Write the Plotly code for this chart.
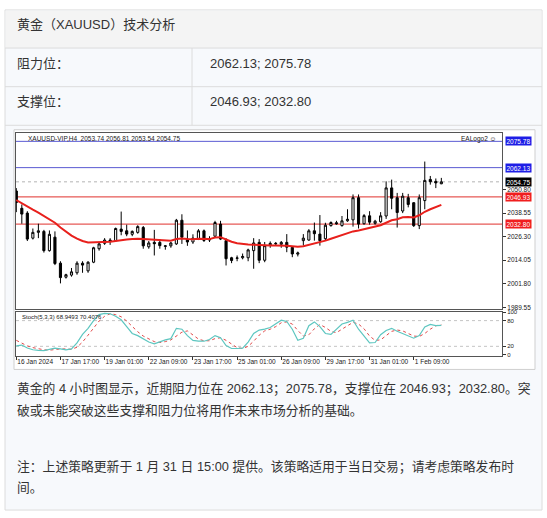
import plotly.graph_objects as go

W, H = 547, 518

# ---------------- data ----------------
bar_index = list(range(78))
opens = [2050.0, 2041.0, 2038.5, 2025.5, 2028.5, 2029.0, 2019.0, 2026.0, 2012.5, 2005.2,
         2006.3, 2007.5, 2012.5, 2008.5, 2013.0, 2020.0, 2022.8, 2024.5, 2024.2, 2030.2,
         2029.3, 2027.5, 2028.5, 2031.0, 2021.0, 2023.3, 2023.3, 2021.2, 2021.5, 2022.5,
         2034.8, 2025.0, 2023.5, 2025.0, 2029.3, 2024.5, 2026.5, 2032.8, 2024.2, 2015.3,
         2015.0, 2015.3, 2015.3, 2019.0, 2023.3, 2014.0, 2022.0, 2022.8, 2022.3, 2023.3,
         2020.7, 2017.2, 2024.2, 2024.5, 2029.3, 2027.6, 2025.2, 2032.0, 2033.5, 2032.0,
         2034.5, 2035.0, 2046.5, 2033.0, 2037.1, 2033.2, 2034.0, 2037.0, 2051.6, 2046.5,
         2039.6, 2046.5, 2043.9, 2032.0, 2045.0, 2056.0, 2055.0, 2053.74]
highs = [2051.5, 2043.0, 2039.5, 2030.5, 2033.0, 2029.8, 2029.5, 2029.0, 2013.5, 2007.0,
         2010.0, 2013.5, 2013.5, 2013.5, 2021.0, 2023.5, 2025.5, 2025.5, 2031.0, 2039.3,
         2032.5, 2029.5, 2032.2, 2031.8, 2024.0, 2029.8, 2025.0, 2021.8, 2023.5, 2035.5,
         2037.9, 2029.5, 2027.5, 2030.2, 2030.0, 2026.5, 2034.5, 2034.5, 2025.5, 2015.8,
         2016.5, 2017.5, 2020.0, 2025.5, 2025.0, 2023.5, 2023.8, 2023.5, 2024.0, 2027.6,
         2020.8, 2018.5, 2027.6, 2030.2, 2033.6, 2037.5, 2033.5, 2034.2, 2034.5, 2037.0,
         2040.5, 2048.2, 2048.2, 2038.0, 2039.5, 2035.0, 2039.0, 2055.0, 2055.9, 2049.0,
         2049.0, 2048.5, 2044.2, 2048.2, 2065.3, 2057.8, 2056.5, 2056.81]
lows = [2039.0, 2033.0, 2024.0, 2024.8, 2025.5, 2018.0, 2018.5, 2011.5, 2002.0, 2004.5,
        2005.5, 2006.5, 2007.5, 2007.5, 2012.5, 2019.0, 2022.0, 2022.0, 2023.8, 2027.0,
        2026.5, 2026.5, 2027.8, 2020.0, 2020.0, 2016.5, 2020.0, 2019.5, 2020.5, 2022.0,
        2022.5, 2021.5, 2022.5, 2024.5, 2023.5, 2023.5, 2026.0, 2024.5, 2011.3, 2012.5,
        2013.5, 2014.5, 2013.5, 2009.6, 2012.5, 2013.0, 2020.5, 2021.5, 2020.5, 2018.2,
        2015.6, 2016.0, 2021.6, 2024.2, 2024.2, 2021.6, 2024.5, 2031.5, 2032.5, 2031.5,
        2034.0, 2031.5, 2030.5, 2032.5, 2032.5, 2032.5, 2033.5, 2035.5, 2040.5, 2031.0,
        2038.5, 2041.5, 2031.3, 2030.2, 2040.5, 2053.3, 2051.5, 2053.54]
closes = [2044.0, 2038.0, 2025.0, 2028.5, 2029.3, 2019.0, 2027.5, 2012.3, 2005.0, 2006.5,
          2008.0, 2012.5, 2011.5, 2013.0, 2020.5, 2022.5, 2024.5, 2024.0, 2030.5, 2029.0,
          2027.6, 2029.0, 2031.5, 2021.5, 2023.0, 2022.6, 2021.6, 2021.5, 2023.0, 2034.8,
          2026.0, 2023.5, 2025.5, 2029.3, 2024.3, 2025.3, 2033.6, 2025.0, 2014.8, 2013.9,
          2015.2, 2016.0, 2019.4, 2023.0, 2014.0, 2021.6, 2022.8, 2022.6, 2023.3, 2020.8,
          2017.3, 2017.8, 2025.5, 2029.3, 2027.8, 2024.2, 2032.2, 2033.6, 2033.0, 2034.5,
          2035.3, 2046.5, 2032.8, 2037.2, 2033.8, 2034.3, 2037.1, 2051.6, 2046.2, 2038.8,
          2047.3, 2043.0, 2032.0, 2046.5, 2055.5, 2054.8, 2054.2, 2054.75]
ma_values = [2045.3, 2043.5, 2041.8, 2040.3, 2038.8, 2037.0, 2035.5, 2033.5, 2031.0, 2028.8,
             2026.8, 2025.2, 2024.0, 2023.3, 2023.3, 2023.3, 2023.5, 2023.6, 2024.0, 2024.6,
             2024.8, 2025.0, 2025.2, 2025.0, 2024.8, 2024.6, 2024.5, 2024.3, 2024.2, 2025.0,
             2025.3, 2025.0, 2024.9, 2025.2, 2025.1, 2025.0, 2025.8, 2026.0, 2024.8, 2023.6,
             2022.9, 2022.5, 2022.2, 2022.1, 2021.9, 2021.8, 2021.7, 2021.7, 2021.8, 2021.6,
             2021.3, 2021.0, 2021.3, 2022.0, 2022.6, 2023.3, 2024.2, 2025.2, 2026.2, 2027.2,
             2028.0, 2029.0, 2029.5, 2030.2, 2030.8, 2031.4, 2032.2, 2033.5, 2034.8, 2035.3,
             2036.3, 2036.5, 2036.2, 2037.4, 2039.2, 2040.5, 2041.7, 2042.8]
stoch_main = [21, 23, 16, 12, 10.5, 10, 13, 16, 14, 12,
              14, 28, 48, 62, 80, 94, 97, 96, 90, 82,
              66, 50, 45, 38, 30, 26, 31, 35, 38, 62,
              60, 45, 34, 32, 32, 36, 45, 40, 22, 15,
              15, 16, 30, 50, 58, 60, 64, 72, 81, 78,
              60, 34, 39, 68, 77, 66, 50, 48, 60, 72,
              76, 81, 60, 44, 28, 29, 47, 57, 62, 55,
              50, 44, 39, 45, 65, 71, 68.5, 68.9493]
stoch_signal = [34, 28, 21, 17, 14, 12, 11, 13, 14, 14,
                13, 18, 30, 46, 63, 79, 90, 96, 94, 89,
                79, 66, 54, 44, 38, 31, 29, 31, 35, 45,
                53, 56, 46, 37, 33, 33, 38, 40, 34, 26,
                17, 15, 20, 32, 46, 56, 60, 66, 75, 77,
                72, 57, 44, 47, 61, 71, 64, 55, 52, 60,
                69, 76, 72, 61, 44, 34, 35, 45, 55, 58,
                56, 50, 44, 43, 50, 60, 68, 70.4076]
x_tick_index = [0, 8, 16, 24, 32, 40, 48, 56, 64, 72]
x_tick_labels = ["16 Jan 2024", "17 Jan 17:00", "19 Jan 01:00", "22 Jan 09:00", "23 Jan 17:00",
                 "25 Jan 01:00", "26 Jan 09:00", "29 Jan 17:00", "31 Jan 01:00", "1 Feb 09:00"]
price_tick_values = [2050.80, 2038.55, 2026.30, 2014.05, 2001.80, 1989.55]
price_tick_labels = ["2050.80", "2038.55", "2026.30", "2014.05", "2001.80", "1989.55"]
resistance_levels = [2075.78, 2062.13]
support_levels = [2046.93, 2032.80]
current_price = 2054.75
stoch_tick_values = [100, 80, 20, 0]
stoch_levels = [80, 20]

title_text = "黄金（XAUUSD）技术分析"
row_labels = ["阻力位：", "支撑位："]
row_values = ["2062.13; 2075.78", "2046.93; 2032.80"]
body_lines = ["黄金的 4 小时图显示，近期阻力位在 2062.13；2075.78，支撑位在 2046.93；2032.80。突",
              "破或未能突破这些支撑和阻力位将用作未来市场分析的基础。",
              "注：上述策略更新于 1 月 31 日 15:00 提供。该策略适用于当日交易；请考虑策略发布时",
              "间。"]

# ---------------- helpers ----------------
def px(x):
    return x / W

def py(y):
    return 1 - y / H

TXT = "Liberation Sans, Noto Sans CJK SC"
MT = "Liberation Sans"
BLUE_LINE = "#5a5ad2"
BLUE_BOX = "#1e1ee6"
RED_LINE = "#e0302c"
RED_BOX = "#f01e1e"
TXT_COLOR = "#333333"

fig = go.Figure()

fig.add_trace(go.Candlestick(
    x=bar_index, open=opens, high=highs, low=lows, close=closes,
    increasing=dict(line=dict(color="#000000", width=1), fillcolor="#ffffff"),
    decreasing=dict(line=dict(color="#000000", width=1), fillcolor="#000000"),
    whiskerwidth=0, xaxis="x", yaxis="y", showlegend=False, hoverinfo="skip"))
fig.add_trace(go.Scatter(x=bar_index, y=ma_values, mode="lines",
                         line=dict(color="#e8201c", width=2), xaxis="x", yaxis="y",
                         showlegend=False, hoverinfo="skip"))
fig.add_trace(go.Scatter(x=bar_index, y=stoch_signal, mode="lines",
                         line=dict(color="#e04848", width=1, dash="dot"), xaxis="x2", yaxis="y2",
                         showlegend=False, hoverinfo="skip"))
fig.add_trace(go.Scatter(x=bar_index, y=stoch_main, mode="lines",
                         line=dict(color="#5ec6c0", width=1.2), xaxis="x2", yaxis="y2",
                         showlegend=False, hoverinfo="skip"))

shapes = []
# table background
shapes.append(dict(type="rect", xref="paper", yref="paper", x0=px(5), x1=px(542), y0=py(512), y1=py(7),
                   fillcolor="#f7f9fc", line=dict(color="#dcdcdc", width=1), layer="below"))
shapes.append(dict(type="rect", xref="paper", yref="paper", x0=px(5.5), x1=px(541.5), y0=py(45.5), y1=py(7.5),
                   fillcolor="#f4f4f4", line=dict(width=0), layer="below"))
for yy in [45.5, 84.5, 123.5]:
    shapes.append(dict(type="line", xref="paper", yref="paper", x0=px(5), x1=px(542), y0=py(yy), y1=py(yy),
                       line=dict(color="#dcdcdc", width=1), layer="below"))
shapes.append(dict(type="line", xref="paper", yref="paper", x0=px(192), x1=px(192), y0=py(123.5), y1=py(45.5),
                   line=dict(color="#dcdcdc", width=1), layer="below"))
# chart image background
shapes.append(dict(type="rect", xref="paper", yref="paper", x0=px(14), x1=px(535), y0=py(370), y1=py(128),
                   fillcolor="#ffffff", line=dict(color="#cfcfcf", width=1), layer="below"))
# level lines
for lv in resistance_levels:
    shapes.append(dict(type="line", xref="x domain", yref="y", x0=0, x1=1, y0=lv, y1=lv,
                       line=dict(color=BLUE_LINE, width=1), layer="below"))
for lv in support_levels:
    shapes.append(dict(type="line", xref="x domain", yref="y", x0=0, x1=1, y0=lv, y1=lv,
                       line=dict(color=RED_LINE, width=1), layer="below"))
shapes.append(dict(type="line", xref="x domain", yref="y", x0=0, x1=1, y0=current_price, y1=current_price,
                   line=dict(color="#b4b4b4", width=1, dash="dot"), layer="below"))
for lv in stoch_levels:
    shapes.append(dict(type="line", xref="x2 domain", yref="y2", x0=0, x1=1, y0=lv, y1=lv,
                       line=dict(color="#c4c4c4", width=1, dash="dot"), layer="below"))

ann = []
# table text
ann.append(dict(text=title_text, x=px(15), y=py(22), xref="paper", yref="paper", xanchor="left",
                yanchor="middle", showarrow=False, font=dict(family=TXT, size=13, color=TXT_COLOR)))
for lbl, val, yy in zip(row_labels, row_values, [61, 99.5]):
    ann.append(dict(text=lbl, x=px(15), y=py(yy), xref="paper", yref="paper", xanchor="left",
                    yanchor="middle", showarrow=False, font=dict(family=TXT, size=13, color=TXT_COLOR)))
    ann.append(dict(text=val, x=px(208), y=py(yy), xref="paper", yref="paper", xanchor="left",
                    yanchor="middle", showarrow=False, font=dict(family=TXT, size=13, color=TXT_COLOR)))
for line, yy in zip(body_lines, [390, 411, 469, 489]):
    ann.append(dict(text=line, x=px(15), y=py(yy), xref="paper", yref="paper", xanchor="left",
                    yanchor="middle", showarrow=False, font=dict(family=TXT, size=12.8, color=TXT_COLOR)))
# chart texts
ann.append(dict(text="XAUUSD-VIP,H4\u00a0\u00a02053.74 2056.81 2053.54 2054.75", x=px(26), y=py(136.5),
                xref="paper", yref="paper", xanchor="left", yanchor="middle", showarrow=False,
                font=dict(family=MT, size=6.5, color="#202020")))
ann.append(dict(text="EALogo2 ☺", x=px(498), y=py(137.5), xref="paper", yref="paper", xanchor="right",
                yanchor="middle", showarrow=False, font=dict(family=MT, size=6.5, color="#202020")))
ann.append(dict(text="Stoch(5,3,3) 68.9493 70.4076", x=px(20), y=py(317), xref="paper", yref="paper",
                xanchor="left", yanchor="middle", showarrow=False, font=dict(family=MT, size=6, color="#202020")))
# level boxes
for lv in resistance_levels:
    ann.append(dict(text=f"{lv:.2f}", x=px(504.5), y=lv, xref="paper", yref="y", xanchor="left",
                    yanchor="middle", showarrow=False, bgcolor=BLUE_BOX, borderpad=0.5,
                    font=dict(family=MT, size=6.5, color="#ffffff")))
for lv in support_levels:
    ann.append(dict(text=f"{lv:.2f}", x=px(504.5), y=lv, xref="paper", yref="y", xanchor="left",
                    yanchor="middle", showarrow=False, bgcolor=RED_BOX, borderpad=0.5,
                    font=dict(family=MT, size=6.5, color="#ffffff")))
ann.append(dict(text=f"{current_price:.2f}", x=px(504.5), y=current_price, xref="paper", yref="y",
                xanchor="left", yanchor="middle", showarrow=False, bgcolor="#000000", borderpad=0.5,
                font=dict(family=MT, size=6.5, color="#ffffff")))

frame = "#555555"
fig.update_layout(
    width=W, height=H, autosize=False,
    margin=dict(l=0, r=0, t=0, b=0),
    paper_bgcolor="#ffffff", plot_bgcolor="rgba(0,0,0,0)",
    showlegend=False,
    shapes=shapes, annotations=ann,
    boxgap=0.45,
    xaxis=dict(domain=[px(16), px(502)], range=[-0.054, 87.99], anchor="y",
               showticklabels=False, ticks="", showgrid=False, zeroline=False,
               showline=True, mirror=True, linecolor=frame, linewidth=1,
               rangeslider=dict(visible=False), fixedrange=True),
    yaxis=dict(domain=[py(309), py(131)], range=[1988.68, 2080.26], anchor="x", side="right",
               tickvals=price_tick_values, ticktext=price_tick_labels,
               ticks="outside", ticklen=3, tickcolor="#333333",
               tickfont=dict(family=MT, size=6.5, color="#202020"),
               showgrid=False, zeroline=False, showline=True, mirror=True,
               linecolor=frame, linewidth=1, fixedrange=True),
    xaxis2=dict(domain=[px(16), px(502)], range=[-0.054, 87.99], anchor="y2",
                tickvals=x_tick_index, ticktext=x_tick_labels, tickangle=0,
                ticks="outside", ticklen=3, tickcolor="#333333",
                ticklabelposition="outside right",
                tickfont=dict(family=MT, size=6.5, color="#202020"),
                showgrid=False, zeroline=False, showline=True, mirror=True,
                linecolor=frame, linewidth=1, fixedrange=True),
    yaxis2=dict(domain=[py(356), py(311.7)], range=[-1.5, 100.8], anchor="x2", side="right",
                tickvals=stoch_tick_values, ticktext=[str(v) for v in stoch_tick_values],
                ticks="outside", ticklen=3, tickcolor="#333333",
                tickfont=dict(family=MT, size=6, color="#202020"),
                showgrid=False, zeroline=False, showline=True, mirror=True,
                linecolor=frame, linewidth=1, fixedrange=True),
)

fig.write_html("out.html", config={"displayModeBar": False},
               post_script="document.body.style.margin='0';document.body.style.padding='0';")
